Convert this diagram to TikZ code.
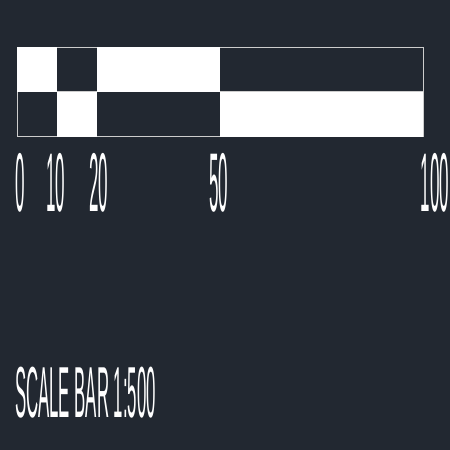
\documentclass[tikz,border=0pt]{standalone}
\usepackage{fontspec}
\setmainfont{Liberation Sans}
\definecolor{bg}{RGB}{34,40,49}
\definecolor{edge}{RGB}{205,205,205}
\newcommand{\tallnum}[1]{\scalebox{1}[4.9]{\fontsize{17}{17}\selectfont #1}}
\newcommand{\talltxt}[1]{\scalebox{1}[4.3]{\fontsize{16.8}{17}\selectfont #1}}
\begin{document}
\begin{tikzpicture}[x=1pt,y=-1pt,
  whitecell/.style={fill=white,draw=none},
  lbl/.style={text=white,inner sep=0pt,outer sep=0pt}]
\fill[bg] (0,0) rectangle (450,450);
\useasboundingbox (0,0) rectangle (450,450);
% outline
\draw[edge,line width=1pt] (17,47) rectangle (423,136);
\draw[edge,line width=1pt] (17,91.5) -- (423,91.5);
% white cells, top row
\fill[whitecell] (17,46.5) rectangle (57,91.5);
\fill[whitecell] (97,46.5) rectangle (220,91.5);
% white cells, bottom row
\fill[whitecell] (57,91.5) rectangle (97,136.5);
\fill[whitecell] (220,91.5) rectangle (423,136.5);
% labels
\node[lbl,anchor=north] (l0) at (20,153) {\tallnum{0}};
\node[lbl,anchor=north] (l10) at (56,153) {\tallnum{10}};
\node[lbl,anchor=north] (l20) at (99,153) {\tallnum{20}};
\node[lbl,anchor=north] (l50) at (218.5,153) {\tallnum{50}};
\node[lbl,anchor=north] (l100) at (435,153) {\tallnum{100}};
\node[lbl,anchor=north west] (title) at (15,367) {\talltxt{SCALE BAR 1:500}};
\end{tikzpicture}
\end{document}
